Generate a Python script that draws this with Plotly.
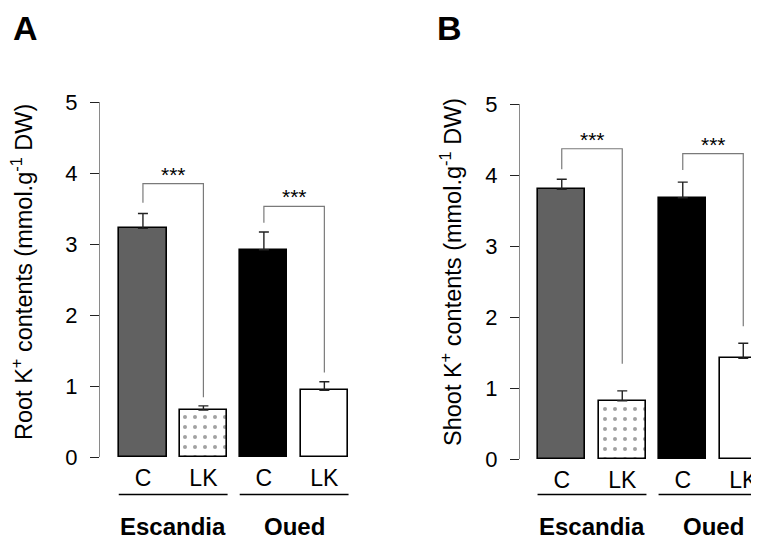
import plotly.graph_objects as go
import numpy as np

# ---- data ----
conditions = ["C", "LK", "C", "LK"]
genotypes = ["Escandia", "Oued"]
root_k = [3.22, 0.66, 2.92, 0.94]
root_err = [0.21, 0.06, 0.25, 0.12]
shoot_k = [3.80, 0.82, 3.68, 1.42]
shoot_err = [0.14, 0.14, 0.22, 0.21]
# brackets: [left_bottom, top, right_bottom] per genotype
root_brackets = [[3.58, 3.85, 0.84], [3.30, 3.53, 1.19]]
shoot_brackets = [[4.08, 4.37, 1.34], [4.07, 4.30, 1.87]]
sig_label = "***"
y_ticks = [0, 1, 2, 3, 4, 5]
root_title = "Root K<sup>+</sup> contents (mmol.g<sup>-1</sup> DW)"
shoot_title = "Shoot K<sup>+</sup> contents (mmol.g<sup>-1</sup> DW)"

bar_colors = ["#616161", "white", "black", "white"]
bar_patterns = ["", ".", "", ""]
FONT = "Liberation Sans, Arial, Helvetica, sans-serif"

# page has an 8px body margin: figure occupies the window minus that offset
OFF = 8
W, H = 759 - OFF, 535 - OFF


def px(v):
    return (v - OFF) / W


def py(v):
    return (H - (v - OFF)) / H


fig = go.Figure()
x = np.arange(len(conditions))

panels = [
    dict(vals=root_k, err=root_err, br=root_brackets, xa="x", ya="y",
         title=root_title, tx=22, label="A", lx=11),
    dict(vals=shoot_k, err=shoot_err, br=shoot_brackets, xa="x2", ya="y2",
         title=shoot_title, tx=451, label="B", lx=435),
]
for p in panels:
    fig.add_trace(go.Bar(
        x=x, y=p["vals"], width=0.78, xaxis=p["xa"], yaxis=p["ya"],
        marker=dict(color=bar_colors, line=dict(color="black", width=1.6),
                    pattern=dict(shape=bar_patterns, fgcolor="black", bgcolor="white",
                                 size=10, solidity=0.13)),
        error_y=dict(type="data", array=p["err"], arrayminus=[0]*4, symmetric=False,
                     color="#222", thickness=1.4, width=5),
        showlegend=False, hoverinfo="skip"))
    for gi, (lb, top, rb) in enumerate(p["br"]):
        xl, xr = x[2*gi], x[2*gi+1]
        fig.add_trace(go.Scatter(
            x=[xl, xl, xr, xr], y=[lb, top, top, rb], mode="lines",
            line=dict(color="#7a7a7a", width=1.2), xaxis=p["xa"], yaxis=p["ya"],
            showlegend=False, hoverinfo="skip"))
        fig.add_annotation(x=(xl+xr)/2, y=top, xref=p["xa"], yref=p["ya"],
                           text=sig_label, showarrow=False, yanchor="bottom", yshift=-4,
                           font=dict(family=FONT, size=21, color="black"))
    xref = p["xa"]
    for gi, g in enumerate(genotypes):
        fig.add_shape(type="line", xref=xref, yref="paper",
                      x0=2*gi-0.4, x1=2*gi+1.4, y0=py(494.5), y1=py(494.5),
                      line=dict(color="black", width=1.4))
        fig.add_annotation(x=2*gi+0.5, y=py(526), xref=xref, yref="paper",
                           text="<b>%s</b>" % g, showarrow=False, yanchor="middle",
                           font=dict(family=FONT, size=24, color="black"))
    fig.add_annotation(x=px(p["tx"]), y=py(272), xref="paper", yref="paper",
                       text=p["title"], textangle=-90, showarrow=False,
                       xanchor="center", yanchor="middle",
                       font=dict(family=FONT, size=23.5, color="black"))
    fig.add_annotation(x=px(p["lx"]), y=py(28), xref="paper", yref="paper",
                       text="<b>%s</b>" % p["label"], showarrow=False,
                       xanchor="left", yanchor="middle",
                       font=dict(family=FONT, size=34, color="black"))

axis_common = dict(showgrid=False, zeroline=False, automargin=False)
yaxis_common = dict(axis_common, range=[0, 5], tickvals=y_ticks, ticks="outside", ticklen=9,
                    tickcolor="#222", tickwidth=1.4, showline=True, linecolor="#8a8a8a", linewidth=1.4,
                    tickfont=dict(family=FONT, size=22, color="black"), ticklabelstandoff=8)
xaxis_common = dict(axis_common, showline=False, ticks="", tickvals=list(x), ticktext=conditions,
                    tickfont=dict(family=FONT, size=23, color="black"), ticklabelstandoff=5)

fig.update_layout(
    width=W, height=H, margin=dict(l=0, r=0, t=0, b=0),
    paper_bgcolor="white", plot_bgcolor="white", font=dict(family=FONT),
    bargap=0,
    xaxis=dict(xaxis_common, domain=[px(100), px(380)], range=[-0.71, 3.92], anchor="y"),
    yaxis=dict(yaxis_common, domain=[py(457), py(102)], anchor="x"),
    xaxis2=dict(xaxis_common, domain=[px(520), 1.0], range=[-0.69, 3.26], anchor="y2"),
    yaxis2=dict(yaxis_common, domain=[py(459), py(104)], anchor="x2"),
)

fig.write_html("out.html")
